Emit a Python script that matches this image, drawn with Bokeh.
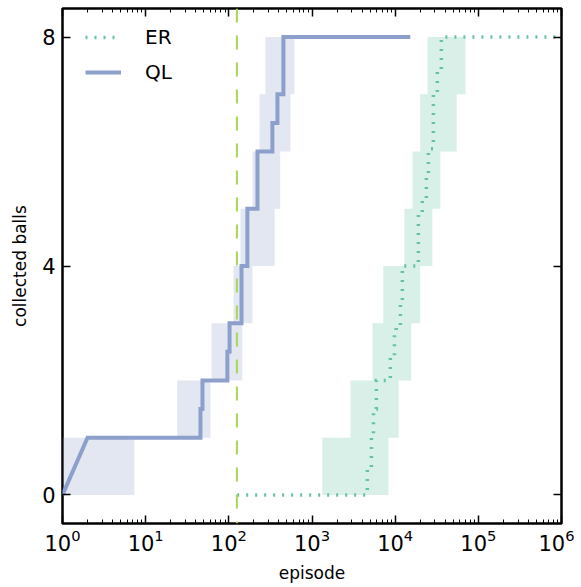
from bokeh.plotting import figure
from bokeh.models import (Range1d, FixedTicker, LogAxis, LinearAxis, Span, Legend,
                          LegendItem)
from bokeh.embed import file_html
from bokeh.resources import INLINE

# ---- data ----
# QL mean curve: episode at which the mean number of collected balls reaches each value
ql_episode = [1, 2, 45.6, 48.2, 96, 102, 142, 167, 221, 334, 384, 453, 15200]
ql_balls = [0, 1, 1.5, 2, 2.5, 3, 4, 5, 6, 6.5, 7, 8, 8]

# ER mean curve
er_episode = [126, 4630, 5180, 5480, 5940, 8750, 9800, 10300, 11560, 12200,
              19000, 21200, 23700, 25100, 28800, 32100, 35900, 1e6]
er_balls = [0, 0.45, 1.0, 1.5, 2.0, 2.4, 2.8, 2.95, 3.35, 4.0,
            4.9, 5.15, 5.6, 6.05, 7.0, 7.4, 8.0, 8.0]

# spread bands: episode range (left, right) for each level interval
band_levels = [0, 1, 2, 3, 4, 5, 6, 7]
ql_band_left = [1, 24, 62, 114, 138, 193, 234, 275]
ql_band_right = [7.3, 60, 145, 192, 355, 415, 550, 615]
er_band_left = [1330, 2900, 5350, 7200, 12900, 16200, 20000, 24500]
er_band_right = [8300, 11000, 15600, 20000, 28000, 35000, 55000, 70000]

switch_episode = 125

x_major = [10 ** k for k in range(7)]
x_minor = [m * 10 ** k for k in range(6) for m in range(2, 10)]
y_major = [0, 4, 8]

ER_COLOR = "#66c2a5"
QL_COLOR = "#8da0cb"
VLINE_COLOR = "#a6d854"
FONT = "DejaVu Sans"


def step_path(xs, ys, diagonal_first=False):
    px, py = [xs[0]], [ys[0]]
    start = 1
    if diagonal_first:
        px.append(xs[1]); py.append(ys[1]); start = 2
    for i in range(start, len(xs)):
        px += [xs[i], xs[i]]
        py += [ys[i - 1], ys[i]]
    return px, py


def band_path(levels, left, right):
    bx, by = [], []
    for lv, l in zip(levels, left):
        bx += [l, l]; by += [lv, lv + 1]
    for lv, r in reversed(list(zip(levels, right))):
        bx += [r, r]; by += [lv + 1, lv]
    return bx, by


p = figure(width=574, height=587, x_axis_type="log",
           x_range=Range1d(1, 1e6), y_range=Range1d(-0.5, 8.5),
           output_backend="svg", toolbar_location=None,
           min_border_left=62, min_border_right=13,
           min_border_top=8, min_border_bottom=64)
p.outline_line_color = "black"
p.outline_line_width = 2.5
p.outline_line_alpha = 1
p.grid.visible = False
p.background_fill_color = "white"

# bands
qbx, qby = band_path(band_levels, ql_band_left, ql_band_right)
p.patch(qbx, qby, fill_color=QL_COLOR, fill_alpha=0.25, line_color=None)
ebx, eby = band_path(band_levels, er_band_left, er_band_right)
p.patch(ebx, eby, fill_color=ER_COLOR, fill_alpha=0.25, line_color=None)

# lines
ex, ey = step_path(er_episode, er_balls)
er_line = p.line(ex, ey, line_color=ER_COLOR, line_width=3.5, line_dash="2 7",
                 line_join="miter", line_cap="butt")
qx, qy = step_path(ql_episode, ql_balls, diagonal_first=True)
ql_line = p.line(qx, qy, line_color=QL_COLOR, line_width=4,
                 line_join="miter", line_cap="butt")

p.add_layout(Span(location=switch_episode, dimension="height",
                  line_color=VLINE_COLOR, line_width=2, line_dash="14 13"))


def style_axis(ax, labels=True):
    ax.axis_line_color = None
    ax.major_tick_in = 8
    ax.major_tick_out = 0
    ax.minor_tick_in = 4
    ax.minor_tick_out = 0
    ax.major_tick_line_width = 1.5
    ax.minor_tick_line_width = 1
    ax.major_tick_line_color = "black"
    ax.minor_tick_line_color = "black"
    ax.major_label_text_font = FONT
    ax.major_label_text_color = "black"
    ax.axis_label_text_color = "black"
    if labels:
        ax.major_label_text_font_size = "21px"
        ax.major_label_standoff = 5
    else:
        ax.major_label_text_font_size = "0px"
        ax.major_label_standoff = 0


xa = p.xaxis[0]
xa.ticker = FixedTicker(ticks=x_major, minor_ticks=x_minor)
style_axis(xa)
xa.axis_label = "episode"
xa.axis_label_text_font = FONT
xa.axis_label_text_font_size = "17px"
xa.axis_label_text_font_style = "normal"
xa.axis_label_standoff = 9

ya = p.yaxis[0]
ya.ticker = FixedTicker(ticks=y_major, minor_ticks=[])
style_axis(ya)
ya.major_label_standoff = 7
ya.axis_label = "collected balls"
ya.axis_label_text_font = FONT
ya.axis_label_text_font_size = "17px"
ya.axis_label_text_font_style = "normal"
ya.axis_label_standoff = 9

top = LogAxis(ticker=FixedTicker(ticks=x_major, minor_ticks=x_minor),
              major_label_overrides={t: "" for t in x_major})
style_axis(top, labels=False)
p.add_layout(top, "above")

right = LinearAxis(ticker=FixedTicker(ticks=y_major, minor_ticks=[]),
                   major_label_overrides={t: "" for t in y_major})
style_axis(right, labels=False)
p.add_layout(right, "right")

legend = Legend(items=[LegendItem(label="ER", renderers=[er_line]),
                       LegendItem(label="QL", renderers=[ql_line])],
                location=(23, 438), border_line_color=None,
                background_fill_alpha=0, margin=0, padding=0, spacing=9,
                glyph_width=36, glyph_height=26, label_height=26,
                label_standoff=24, label_text_font=FONT,
                label_text_font_size="20px", label_text_color="black")
p.add_layout(legend)

open("out.html", "w").write(file_html(p, INLINE))
